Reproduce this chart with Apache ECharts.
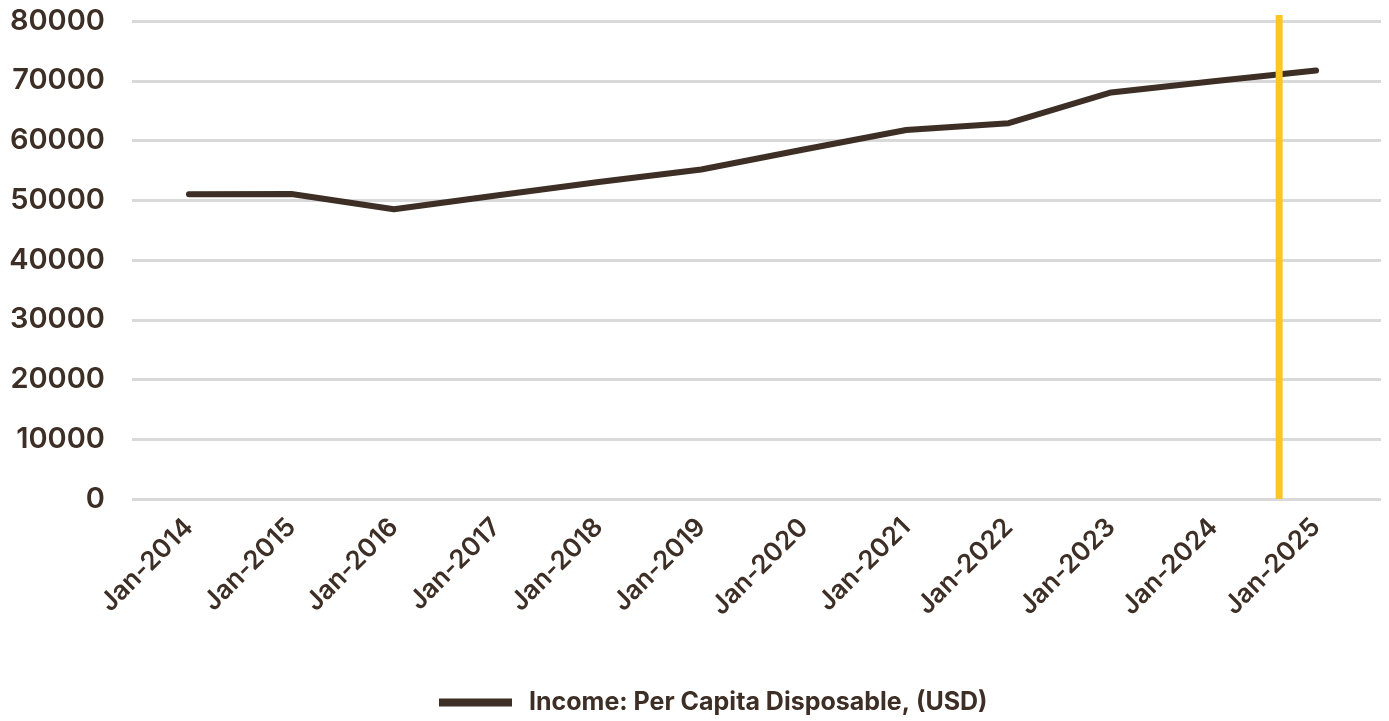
<!DOCTYPE html>
<html>
<head>
<meta charset="utf-8">
<script src="https://cdn.jsdelivr.net/npm/echarts@6/dist/echarts.min.js"></script>
<style>html,body{margin:0;padding:0;background:#fff}#c{width:1389px;height:721px}</style>
</head>
<body>
<div id="c"></div>
<script>
const categories = ['Jan-2014','Jan-2015','Jan-2016','Jan-2017','Jan-2018','Jan-2019','Jan-2020','Jan-2021','Jan-2022','Jan-2023','Jan-2024','Jan-2025'];
const incomeValues = [51000, 51050, 48500, 50800, 53050, 55150, 58500, 61750, 62900, 68050, 69900, 71700];
const yTicks = [0, 10000, 20000, 30000, 40000, 50000, 60000, 70000, 80000];
const markerPosition = 10.64;
const markerSpan = [0, 81000];
const seriesName = 'Income: Per Capita Disposable, (USD)';

const ink = '#3e2f26';
const chart = echarts.init(document.getElementById('c'), null, {renderer: 'canvas'});
const idx = categories.map((_, i) => i);
chart.setOption({
  animation: false,
  backgroundColor: '#fff',
  grid: {left: 132, right: 8, top: 21, bottom: 222, containLabel: false},
  legend: {
    bottom: 1, left: 434,
    data: [{name: seriesName, icon: 'rect'}],
    itemWidth: 73, itemHeight: 8, itemGap: 12,
    textStyle: {fontFamily: 'Inter', fontWeight: 700, fontSize: 25, color: ink, padding: [0, 0, 0, 12]}
  },
  xAxis: {
    type: 'value', min: -0.556, max: 11.634,
    splitLine: {show: false}, axisLine: {show: false}, axisTick: {show: false},
    axisLabel: {
      customValues: idx, rotate: 45, margin: 24,
      fontFamily: 'Inter', fontWeight: 600, fontSize: 26, color: ink,
      formatter: v => categories[Math.round(v)]
    }
  },
  yAxis: {
    type: 'value', min: 0, max: 80000, interval: 10000,
    axisLine: {show: false}, axisTick: {show: false},
    splitLine: {lineStyle: {color: '#d9d9d9', width: 3}},
    axisLabel: {margin: 27, fontFamily: 'Inter', fontWeight: 600, fontSize: 29, color: ink,
      customValues: yTicks, formatter: v => String(v)}
  },
  series: [
    {
      name: seriesName, type: 'line', symbol: 'none', clip: false,
      data: incomeValues.map((v, i) => [i, v]),
      itemStyle: {color: ink},
      lineStyle: {color: ink, width: 6, cap: 'round', join: 'round'},
      z: 3
    },
    {
      name: 'marker', type: 'line', symbol: 'none', clip: false, silent: true, z: 4,
      data: markerSpan.map(v => [markerPosition, v]),
      itemStyle: {color: '#ffc425'},
      lineStyle: {color: '#ffc425', width: 7, cap: 'butt'},
      emphasis: {disabled: true}
    }
  ]
});
</script>
</body>
</html>
